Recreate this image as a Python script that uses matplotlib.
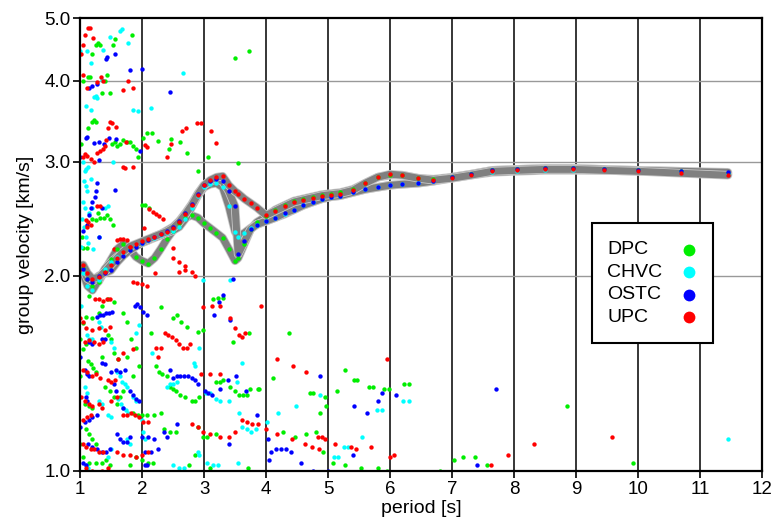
import numpy as np
import matplotlib.pyplot as plt
import matplotlib.patheffects as pe
from matplotlib.patches import Rectangle
from matplotlib.ticker import FixedLocator, NullLocator, FixedFormatter

plt.rcParams['font.family'] = ['Liberation Sans', 'DejaVu Sans']

# fundamental mode: periods shared by all stations
mode_periods = [1.05, 1.12, 1.2, 1.3, 1.4, 1.5, 1.6, 1.7, 1.8, 1.9, 2.0, 2.1, 2.2, 2.3, 2.4,
                2.5, 2.6, 2.7, 2.8, 2.9, 3.0, 3.1, 3.2, 3.3, 3.4, 3.5, 3.55, 3.65, 3.75, 3.85,
                4.0, 4.15, 4.3, 4.45, 4.6, 4.75, 4.9, 5.05, 5.2, 5.4, 5.6, 5.8, 6.0, 6.2, 6.45,
                6.7, 7.0, 7.3, 7.65, 8.05, 8.5, 8.95, 9.45, 10.0, 10.7, 11.45]

dpc_mode = [2.06, 1.98, 1.93, 1.96, 2.04, 2.12, 2.2, 2.24, 2.2, 2.14, 2.11, 2.09, 2.13, 2.2, 2.28,
            2.35, 2.41, 2.46, 2.48, 2.46, 2.41, 2.37, 2.33, 2.29, 2.2, 2.11, 2.13, 2.24, 2.36, 2.42,
            2.47, 2.53, 2.57, 2.61, 2.63, 2.65, 2.67, 2.68, 2.69, 2.72, 2.78, 2.84, 2.86, 2.86, 2.83,
            2.82, 2.84, 2.87, 2.91, 2.92, 2.93, 2.93, 2.92, 2.91, 2.9, 2.88]
chvc_mode = [2.02, 1.93, 1.9, 1.97, 2.05, 2.1, 2.14, 2.17, 2.2, 2.23, 2.25, 2.27, 2.29, 2.31, 2.33,
             2.35, 2.38, 2.45, 2.55, 2.66, 2.74, 2.77, 2.78, 2.74, 2.56, 2.34, 2.3, 2.33, 2.37, 2.4,
             2.43, 2.46, 2.49, 2.53, 2.57, 2.6, 2.63, 2.65, 2.66, 2.69, 2.72, 2.74, 2.76, 2.77, 2.78,
             2.8, 2.83, 2.86, 2.89, 2.9, 2.91, 2.91, 2.91, 2.9, 2.89, 2.87]
ostc_mode = [2.05, 1.98, 1.96, 2.0, 2.02, 2.04, 2.1, 2.15, 2.19, 2.22, 2.25, 2.27, 2.3, 2.32, 2.35,
             2.38, 2.43, 2.5, 2.58, 2.68, 2.76, 2.8, 2.82, 2.8, 2.7, 2.56, 2.16, 2.26, 2.36, 2.4,
             2.43, 2.46, 2.5, 2.53, 2.57, 2.6, 2.63, 2.65, 2.66, 2.69, 2.72, 2.74, 2.76, 2.77, 2.78,
             2.8, 2.84, 2.87, 2.91, 2.92, 2.93, 2.93, 2.92, 2.91, 2.9, 2.89]
upc_mode = [2.08, 2.02, 1.98, 1.99, 2.03, 2.08, 2.13, 2.18, 2.22, 2.24, 2.26, 2.28, 2.3, 2.32, 2.34,
            2.37, 2.42, 2.49, 2.57, 2.67, 2.76, 2.81, 2.84, 2.85, 2.76, 2.7, 2.68, 2.63, 2.59, 2.55,
            2.48, 2.52, 2.56, 2.6, 2.62, 2.64, 2.66, 2.67, 2.68, 2.71, 2.78, 2.84, 2.87, 2.86, 2.83,
            2.81, 2.83, 2.86, 2.9, 2.91, 2.92, 2.92, 2.91, 2.9, 2.88, 2.86]

# other picks (period [s], group velocity [km/s])
dpc_picks = [
    (1.84, 4.7), (1.56, 4.64), (1.53, 4.55), (1.29, 4.58), (1.33, 4.55), (1.25, 4.55), (1.2, 4.4),
    (1.13, 4.06), (1.16, 4.06), (1.44, 4.08), (1.04, 4.0), (1.4, 4.0), (1.35, 3.83), (1.48, 3.83),
    (1.23, 3.48), (1.2, 3.46), (1.26, 3.45), (1.13, 3.38), (1.01, 3.2), (1.52, 3.2), (1.56, 3.22),
    (1.6, 3.17), (1.65, 3.2), (1.7, 3.24), (1.75, 3.22), (1.81, 3.22), (1.85, 3.17), (1.9, 3.14),
    (1.94, 3.05), (2.02, 3.27), (2.08, 3.32), (2.16, 3.32), (2.26, 3.23), (2.47, 3.25), (2.61, 3.22),
    (2.73, 3.1), (2.43, 3.14), (3.06, 3.05), (2.9, 2.9), (3.54, 2.99), (3.5, 4.34), (3.73, 4.45),
    (2.0, 2.57), (2.05, 2.57), (2.12, 2.55), (1.29, 2.5), (1.33, 2.46), (1.38, 2.46), (1.43, 2.48),
    (1.48, 2.45), (1.53, 2.4), (1.05, 2.21), (1.12, 2.21), (1.2, 2.45), (1.25, 2.44), (1.03, 2.3),
    (1.05, 1.69), (1.1, 1.73), (1.2, 1.72), (1.3, 1.75), (1.35, 1.8), (1.45, 1.84), (1.55, 1.82),
    (1.15, 1.86), (1.7, 1.75), (1.75, 1.7), (1.82, 1.6), (1.13, 1.48), (1.17, 1.46), (1.21, 1.44),
    (1.26, 1.42), (1.05, 1.54), (1.1, 1.57), (1.0, 1.6), (1.45, 1.62), (1.5, 1.6), (1.55, 1.52),
    (1.62, 1.49), (1.4, 1.35), (1.48, 1.33), (1.55, 1.3), (1.08, 1.27), (1.15, 1.26), (1.2, 1.25),
    (1.6, 1.27), (1.65, 1.3), (1.7, 1.33), (1.86, 1.23), (1.93, 1.22), (2.0, 1.22), (2.08, 1.22),
    (2.2, 1.22), (2.3, 1.23), (1.1, 1.16), (1.15, 1.14), (1.2, 1.12), (1.25, 1.1), (1.05, 1.05),
    (1.15, 1.03), (1.25, 1.03), (1.35, 1.03), (1.42, 1.04), (1.48, 1.02), (1.9, 1.05), (2.0, 1.04),
    (2.1, 1.03), (2.17, 1.03), (1.8, 1.02), (1.0, 1.1), (1.0, 1.4), (1.35, 1.5), (1.75, 1.5),
    (1.9, 1.55), (1.95, 1.45), (1.85, 1.4), (2.31, 1.79), (2.5, 1.72), (2.57, 1.74), (2.63, 1.7),
    (2.72, 1.67), (2.15, 1.63), (2.9, 1.64), (2.98, 1.65), (3.47, 1.58), (3.73, 1.63), (4.37, 1.63),
    (3.15, 1.84), (3.22, 1.85), (3.3, 1.85), (2.22, 1.45), (2.28, 1.42), (2.33, 1.41), (2.4, 1.4),
    (2.45, 1.35), (2.5, 1.34), (2.55, 1.33), (2.62, 1.31), (2.7, 1.3), (2.8, 1.28), (2.85, 1.28),
    (2.92, 1.3), (3.2, 1.37), (3.25, 1.37), (3.3, 1.38), (3.42, 1.35), (3.5, 1.33), (3.56, 1.31),
    (3.63, 1.31), (3.74, 1.34), (3.88, 1.34), (4.11, 1.39), (4.76, 1.32), (4.97, 1.26), (4.95, 1.3),
    (5.15, 1.33), (5.27, 1.43), (5.47, 1.38), (5.73, 1.35), (5.98, 1.34), (6.31, 1.36), (2.35, 1.16),
    (2.45, 1.15), (2.55, 1.15), (2.9, 1.17), (2.98, 1.13), (3.05, 1.13), (3.2, 1.14), (4.27, 1.15),
    (4.47, 1.13), (4.65, 1.14), (4.8, 1.15), (4.92, 1.07), (5.08, 1.03), (5.27, 1.02), (5.53, 1.01),
    (5.8, 1.01), (5.95, 1.0), (6.8, 1.0), (7.03, 1.04), (7.18, 1.05), (7.37, 1.05), (7.56, 1.02),
    (8.85, 1.26), (9.92, 1.03), (3.71, 1.01), (3.69, 1.31), (3.87, 1.34), (4.71, 1.32), (4.87, 1.23),
    (5.42, 1.38), (5.66, 1.35), (5.9, 1.34), (6.23, 1.36), (3.1, 1.01), (2.75, 1.02), (2.85, 1.06),
]
chvc_picks = [
    (1.68, 4.8), (1.65, 4.78), (1.48, 4.68), (1.77, 4.58), (1.0, 4.45), (1.11, 4.45), (1.37, 4.47),
    (1.18, 4.26), (1.35, 4.01), (1.23, 3.77), (1.25, 3.79), (1.28, 3.76), (1.1, 3.66), (1.17, 3.6),
    (1.85, 3.6), (1.93, 3.59), (2.14, 3.63), (2.66, 4.11), (1.53, 3.0), (1.05, 3.0), (1.1, 2.92),
    (1.03, 2.45), (1.05, 2.6), (1.07, 2.8), (1.08, 2.9), (1.1, 2.75), (1.12, 2.7), (1.08, 2.55),
    (1.06, 2.38), (1.1, 2.3), (1.13, 2.25), (1.15, 2.5), (1.2, 2.55), (1.4, 2.55), (1.45, 2.56),
    (1.01, 2.22), (1.18, 2.82), (1.13, 2.95), (1.21, 2.2), (1.3, 2.3), (1.12, 1.62), (1.15, 1.6),
    (1.2, 1.6), (1.3, 1.7), (1.34, 1.67), (1.5, 1.58), (1.55, 1.55), (1.6, 1.42), (1.64, 1.4),
    (1.68, 1.37), (1.72, 1.36), (1.76, 1.35), (1.62, 1.29), (1.66, 1.27), (1.7, 1.25), (1.74, 1.24),
    (1.78, 1.23), (1.08, 1.35), (1.12, 1.32), (1.3, 1.28), (1.35, 1.27), (1.45, 1.22), (1.5, 1.21),
    (1.85, 1.3), (1.9, 1.28), (2.0, 1.2), (2.02, 1.15), (2.04, 1.12), (1.1, 1.02), (1.13, 1.01),
    (1.45, 1.05), (1.5, 1.08), (1.75, 1.12), (1.8, 1.1), (1.9, 1.63), (1.95, 1.68), (1.02, 1.8),
    (2.84, 1.47), (2.86, 1.45), (2.92, 1.55), (2.16, 1.52), (2.4, 1.35), (2.45, 1.36), (2.5, 1.36),
    (2.56, 1.37), (3.03, 1.32), (3.1, 1.32), (3.2, 1.29), (3.25, 1.28), (3.4, 1.28), (3.53, 1.37),
    (3.57, 1.23), (3.62, 1.47), (3.62, 1.17), (3.7, 1.16), (3.75, 1.15), (3.84, 1.16), (4.01, 1.19),
    (4.19, 1.23), (4.48, 1.26), (4.87, 1.31), (5.32, 1.09), (5.55, 1.13), (5.16, 1.05), (5.1, 1.05),
    (5.26, 1.09), (5.79, 1.24), (5.87, 1.24), (6.21, 1.28), (6.31, 1.28), (2.9, 1.07), (2.92, 1.06),
    (3.04, 1.03), (3.15, 1.02), (3.22, 1.02), (3.55, 1.03), (2.5, 1.02), (2.6, 1.01), (2.67, 1.01),
    (2.98, 1.97), (3.42, 1.97), (11.45, 1.12),
]
ostc_picks = [
    (1.42, 4.32), (1.43, 4.35), (1.56, 4.4), (1.81, 4.16), (2.0, 4.17), (2.45, 3.85), (1.19, 3.92),
    (1.15, 3.9), (1.27, 3.95), (1.1, 3.27), (1.12, 3.28), (1.23, 3.21), (1.3, 3.22), (1.38, 3.2),
    (1.47, 3.27), (1.58, 3.25), (1.97, 3.12), (1.0, 3.05), (1.31, 3.02), (1.56, 2.71), (1.28, 2.78),
    (1.24, 2.65), (1.2, 2.6), (1.18, 2.55), (1.15, 2.48), (1.11, 2.4), (1.05, 2.35), (1.3, 2.3),
    (1.25, 2.7), (1.35, 2.55), (1.27, 1.73), (1.32, 1.74), (1.37, 1.74), (1.42, 1.75), (1.47, 1.75),
    (1.52, 1.76), (1.89, 1.8), (1.92, 1.81), (1.97, 1.79), (2.02, 1.76), (2.08, 1.74), (1.15, 1.58),
    (1.2, 1.57), (1.35, 1.6), (1.4, 1.6), (1.08, 1.43), (1.12, 1.41), (1.15, 1.4), (1.35, 1.47),
    (1.4, 1.46), (1.5, 1.42), (1.58, 1.43), (1.65, 1.42), (1.72, 1.43), (1.8, 1.33), (1.85, 1.31),
    (1.9, 1.29), (1.95, 1.28), (1.55, 1.36), (1.58, 1.33), (1.1, 1.3), (1.12, 1.28), (1.08, 1.19),
    (1.15, 1.2), (1.2, 1.21), (1.27, 1.22), (1.6, 1.14), (1.65, 1.12), (1.7, 1.11), (1.75, 1.11),
    (1.8, 1.13), (1.13, 1.1), (1.2, 1.09), (1.28, 1.08), (1.35, 1.07), (1.42, 1.07), (1.48, 1.08),
    (1.05, 1.03), (1.1, 1.02), (2.05, 1.02), (2.08, 1.02), (1.7, 1.25), (1.0, 1.5), (1.0, 1.17),
    (3.31, 1.87), (3.24, 1.82), (3.16, 1.74), (3.42, 1.71), (3.47, 1.98), (2.45, 1.43), (2.5, 1.39),
    (2.56, 1.4), (2.62, 1.4), (2.68, 1.4), (2.74, 1.4), (2.8, 1.39), (2.86, 1.38), (2.9, 1.36),
    (3.02, 1.33), (3.07, 1.32), (3.13, 1.31), (3.39, 1.38), (3.52, 1.4), (3.25, 1.34), (3.68, 1.33),
    (3.85, 1.22), (4.03, 1.12), (4.05, 1.04), (4.08, 1.07), (4.16, 1.08), (4.24, 1.08), (4.32, 1.08),
    (4.4, 1.07), (4.56, 1.03), (4.76, 1.0), (5.0, 1.0), (4.87, 1.4), (5.42, 1.26), (5.63, 1.23),
    (5.4, 1.06), (5.8, 1.28), (5.87, 1.32), (6.1, 1.31), (7.71, 1.34), (7.4, 1.02), (3.4, 1.1),
    (2.56, 1.18), (2.35, 1.15), (2.4, 1.13), (2.0, 1.13), (2.1, 1.13), (2.2, 1.12), (2.05, 1.07),
    (2.15, 1.07), (2.25, 1.08),
]
upc_picks = [
    (1.13, 4.82), (1.16, 4.82), (1.08, 4.7), (1.21, 4.65), (1.05, 4.55), (1.01, 4.4), (1.05, 4.08),
    (1.11, 3.9), (1.27, 3.99), (1.34, 4.05), (1.37, 4.0), (1.77, 4.0), (1.69, 3.87), (1.85, 3.9),
    (1.52, 3.44), (1.45, 3.38), (1.58, 3.4), (1.49, 3.46), (1.42, 3.24), (1.05, 3.05), (1.08, 3.08),
    (1.12, 3.06), (1.17, 3.03), (1.22, 3.0), (1.28, 3.1), (1.33, 3.12), (1.37, 3.14), (1.4, 3.17),
    (1.7, 2.94), (1.73, 2.93), (2.08, 3.16), (2.05, 3.18), (2.4, 3.05), (2.47, 3.2), (2.64, 3.35),
    (2.71, 3.38), (2.89, 3.44), (2.95, 3.44), (3.11, 3.35), (3.19, 3.21), (1.85, 2.95), (1.74, 3.22),
    (1.27, 2.56), (1.32, 2.56), (1.1, 2.44), (1.13, 2.42), (1.17, 2.4), (1.12, 2.38), (1.6, 2.27),
    (1.65, 2.28), (1.7, 2.28), (1.76, 2.27), (1.55, 2.2), (1.8, 2.22), (2.03, 2.37), (2.11, 2.54),
    (2.17, 2.51), (2.23, 2.49), (2.28, 2.47), (2.34, 2.45), (2.5, 2.21), (2.5, 2.13), (2.6, 2.1),
    (2.7, 2.07), (2.8, 2.03), (2.85, 2.0), (2.21, 2.02), (2.6, 2.03), (2.7, 2.04), (1.0, 2.05),
    (1.24, 1.84), (1.3, 1.84), (1.37, 1.83), (1.43, 1.84), (1.48, 1.84), (1.85, 1.96), (1.92, 1.95),
    (2.0, 1.94), (2.08, 1.93), (1.0, 1.72), (1.05, 1.7), (1.1, 1.66), (1.2, 1.65), (1.3, 1.66),
    (1.4, 1.65), (1.48, 1.67), (1.08, 1.58), (1.15, 1.59), (1.22, 1.58), (1.3, 1.57), (1.37, 1.58),
    (1.05, 1.43), (1.12, 1.42), (1.2, 1.4), (1.26, 1.41), (1.32, 1.39), (1.45, 1.38), (1.5, 1.37),
    (1.56, 1.38), (1.02, 1.3), (1.08, 1.28), (1.15, 1.27), (1.2, 1.26), (1.3, 1.27), (1.35, 1.25),
    (1.5, 1.28), (1.6, 1.3), (1.7, 1.22), (1.76, 1.22), (1.82, 1.23), (1.88, 1.22), (1.95, 1.21),
    (1.05, 1.2), (1.12, 1.21), (1.18, 1.22), (1.05, 1.1), (1.1, 1.09), (1.17, 1.08), (1.23, 1.08),
    (1.3, 1.07), (1.37, 1.07), (1.6, 1.07), (1.7, 1.06), (1.8, 1.06), (1.9, 1.05), (2.0, 1.06),
    (2.1, 1.07), (1.1, 1.01), (1.2, 1.0), (1.35, 1.0), (1.45, 1.01), (1.62, 1.49), (1.7, 1.52),
    (1.85, 1.54), (2.37, 1.63), (2.42, 1.62), (2.48, 1.61), (2.54, 1.59), (2.6, 1.57), (2.66, 1.55),
    (2.72, 1.55), (2.78, 1.57), (2.22, 1.55), (2.3, 1.55), (2.26, 1.5), (2.98, 1.79), (3.13, 1.8),
    (3.26, 1.8), (3.42, 1.72), (3.5, 1.66), (3.56, 1.62), (3.62, 1.61), (3.66, 1.63), (3.92, 1.8),
    (4.18, 1.49), (4.44, 1.45), (4.65, 1.42), (5.95, 1.49), (2.95, 1.41), (3.1, 1.41), (3.25, 1.41),
    (2.02, 1.19), (2.1, 1.19), (2.8, 1.18), (2.9, 1.17), (2.98, 1.15), (3.1, 1.14), (3.25, 1.13),
    (3.4, 1.13), (3.5, 1.15), (3.62, 1.2), (3.7, 1.19), (3.78, 1.18), (3.87, 1.18), (4.0, 1.16),
    (4.18, 1.14), (4.42, 1.12), (4.63, 1.1), (4.74, 1.09), (4.84, 1.13), (4.9, 1.13), (4.95, 1.12),
    (5.11, 1.1), (5.37, 1.09), (5.69, 1.09), (6.0, 1.05), (6.06, 1.06), (7.63, 1.02), (7.9, 1.06),
    (8.32, 1.1), (9.58, 1.13), (4.85, 1.08), (5.45, 1.08),
]

stations = ['DPC', 'CHVC', 'OSTC', 'UPC']
colors = ['#00ee00', '#00ffff', '#0000ff', '#ff0000']
modes = [dpc_mode, chvc_mode, ostc_mode, upc_mode]
picks = [dpc_picks, chvc_picks, ostc_picks, upc_picks]

fig = plt.figure(figsize=(7.8, 5.25), dpi=100)
ax = fig.add_axes([0.1026, 0.1029, 0.8744, 0.8628])
ax.set_yscale('log')
ax.set_xlim(1, 12)
ax.set_ylim(1.0, 5.0)

# grid
for x in range(2, 12):
    ax.axvline(x, color='black', lw=1.1, zorder=0.5)
for y in [2.0, 3.0, 4.0]:
    ax.axhline(y, color='#999999', lw=1.0, zorder=0.5)

# gray dispersion curves
for vel in modes:
    ax.plot(mode_periods, vel, color='#808080', lw=5, solid_capstyle='round', zorder=2,
            path_effects=[pe.Stroke(linewidth=6.2, foreground='#c8c8c8'), pe.Normal()])

for name, col, vel, pk in zip(stations, colors, modes, picks):
    pk = np.array(pk)
    ax.scatter(pk[:, 0], pk[:, 1], s=10, color=col, linewidths=0, zorder=3)
    ax.scatter(mode_periods, vel, s=10, color=col, linewidths=0, zorder=4)

ax.yaxis.set_major_locator(FixedLocator([1.0, 2.0, 3.0, 4.0, 5.0]))
ax.yaxis.set_major_formatter(FixedFormatter(['1.0', '2.0', '3.0', '4.0', '5.0']))
ax.yaxis.set_minor_locator(NullLocator())
ax.set_xticks(range(1, 13))
ax.tick_params(direction='out', length=5, width=1.2, labelsize=13.5, pad=2)

for s in ax.spines.values():
    s.set_linewidth(1.6)
    s.set_zorder(5)

ax.set_xlabel('period [s]', fontsize=14, labelpad=2)
ax.set_ylabel('group velocity [km/s]', fontsize=14, labelpad=7)

# legend box: labels left-aligned, markers in a right column
ax.add_patch(Rectangle((0.7507, 0.2826), 0.1775, 0.2649, transform=ax.transAxes,
                       facecolor='white', edgecolor='black', lw=1.5, zorder=6))
row_y = [0.4879, 0.4382, 0.3885, 0.3389]
for name, col, yy in zip(stations, colors, row_y):
    ax.text(0.7727, yy, name, transform=ax.transAxes, fontsize=14, va='center', ha='left', zorder=7)
    ax.plot([0.893], [yy], 'o', ms=8.5, color=col, mec='none', transform=ax.transAxes,
            zorder=7, clip_on=False)

fig.savefig('out.png', dpi=100)
